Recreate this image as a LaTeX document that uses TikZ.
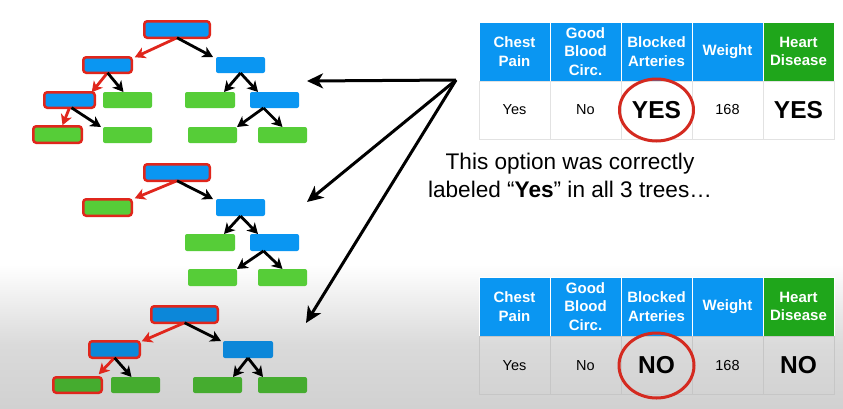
\documentclass[tikz,border=0pt]{standalone}
\usepackage{fontspec}
\setmainfont{Liberation Sans}
\usetikzlibrary{arrows.meta}

\definecolor{cblue}{HTML}{0A96F2}
\definecolor{cgreen}{HTML}{56CD38}
\definecolor{cblueD}{HTML}{0C87D9}
\definecolor{cgreenD}{HTML}{45AC2F}
\definecolor{cred}{HTML}{E0261C}
\definecolor{hgreen}{HTML}{1FA61B}
\definecolor{ringred}{HTML}{D42A20}
\definecolor{gridL}{HTML}{E2E2E2}
\definecolor{gridD}{HTML}{C6C6C6}
\definecolor{shadeA}{HTML}{DADADA}
\definecolor{shadeB}{HTML}{D1D1D1}

\tikzset{
  nd/.style={rectangle, rounded corners=2pt, inner sep=0pt, outer sep=0pt,
             minimum width=49pt, minimum height=16pt},
  bl/.style={nd, fill=cblue},
  gr/.style={nd, fill=cgreen},
  blD/.style={nd, fill=cblueD},
  grD/.style={nd, fill=cgreenD},
  hit/.style={draw=cred, line width=2.5pt, rounded corners=3pt},
  barr/.style={line width=2.8pt, draw=black,
               -{Stealth[length=10.5pt, width=11.5pt, inset=3pt]}},
  rarr/.style={barr, draw=cred},
  bigarr/.style={line width=3pt, draw=black,
                 -{Stealth[length=16pt, width=15pt, inset=4.5pt]}},
  hcell/.style={rectangle, fill=cblue, draw=white, line width=1pt,
                minimum width=71pt, minimum height=59pt, inner sep=0pt,
                text=white, align=center,
                font=\bfseries\fontsize{15}{18.5}\selectfont},
  hcellG/.style={hcell, fill=hgreen},
  dcell/.style={rectangle, draw=gridL, line width=1pt,
                minimum width=71pt, minimum height=58pt, inner sep=0pt,
                font=\fontsize{14.5}{16}\selectfont},
  dcellD/.style={dcell, draw=gridD},
  bigtxt/.style={font=\bfseries\fontsize{24.5}{28}\selectfont},
  ring/.style={draw=ringred, line width=3pt},
  captxt/.style={font=\fontsize{22.6}{28}\selectfont, anchor=base}
}

\begin{document}
\begin{tikzpicture}[x=1pt, y=-1pt]
  % page and the soft grey floor
  \useasboundingbox (0,0) rectangle (843,408);
  \fill[white] (0,0) rectangle (843,408);
  \shade[top color=white, bottom color=shadeA] (0,264) rectangle (843,345);
  \shade[top color=shadeA, bottom color=shadeB] (0,345) rectangle (843,408);

  % ---------- first tree ----------
  \node[bl,hit,minimum width=65.5pt,minimum height=16.5pt] (t1r) at (177,29.5) {};
  \node[bl,hit,minimum width=48.5pt,minimum height=15.5pt] (t1a) at (107.5,65) {};
  \node[bl] (t1b) at (240.5,65) {};
  \node[bl,hit,minimum width=50.5pt,minimum height=15.5pt] (t1c) at (69.5,100) {};
  \node[gr] (t1d) at (127.5,100) {};
  \node[gr,minimum width=50pt] (t1e) at (210,100) {};
  \node[bl] (t1f) at (274.5,100) {};
  \node[gr,hit,minimum width=48.5pt,minimum height=16.5pt] (t1g) at (57.5,134.5) {};
  \node[gr] (t1h) at (127.5,135) {};
  \node[gr] (t1i) at (212.5,135) {};
  \node[gr] (t1j) at (282.5,135) {};

  \draw[rarr] (t1r.south) -- ([xshift=3pt]t1a.north east);
  \draw[barr] (t1r.south) -- ([xshift=-3pt]t1b.north west);
  \draw[rarr] (t1a.south) -- ([xshift=-3pt]t1c.north east);
  \draw[barr] (t1a.south) -- ([xshift=-4pt]t1d.north);
  \draw[rarr] (t1c.south) -- ([xshift=5pt,yshift=1pt]t1g.north);
  \draw[barr] ([xshift=2pt]t1c.south) -- ([xshift=-2pt]t1h.north west);
  \draw[barr] (t1b.south) -- ([xshift=-11pt]t1e.north east);
  \draw[barr] (t1b.south) -- ([xshift=8pt]t1f.north west);
  \draw[barr] ([xshift=-11pt]t1f.south) -- (t1i.north east);
  \draw[barr] ([xshift=-11pt]t1f.south) -- (t1j.north);

  % ---------- second tree ----------
  \node[bl,hit,minimum width=65.5pt,minimum height=16.5pt] (t2r) at (177,172.5) {};
  \node[gr,hit,minimum width=48.5pt,minimum height=16.5pt] (t2a) at (107.5,207.5) {};
  \node[bl,minimum height=17pt] (t2b) at (240.5,207.5) {};
  \node[gr,minimum width=50pt,minimum height=17pt] (t2e) at (210,242.5) {};
  \node[bl,minimum height=17pt] (t2f) at (274.5,242.5) {};
  \node[gr,minimum height=17pt] (t2i) at (212.5,277.5) {};
  \node[gr,minimum height=17pt] (t2j) at (282.5,277.5) {};

  \draw[rarr] (t2r.south) -- ([xshift=3pt,yshift=1pt]t2a.north east);
  \draw[barr] (t2r.south) -- ([xshift=-3pt]t2b.north west);
  \draw[barr] (t2b.south) -- ([xshift=-11pt]t2e.north east);
  \draw[barr] (t2b.south) -- ([xshift=8pt]t2f.north west);
  \draw[barr] ([xshift=-11pt]t2f.south) -- (t2i.north east);
  \draw[barr] ([xshift=-11pt]t2f.south) -- (t2j.north);

  % ---------- third tree ----------
  \node[blD,hit,minimum width=66.5pt,minimum height=16.5pt] (t3r) at (184.5,314.5) {};
  \node[blD,hit,minimum width=50.5pt,minimum height=16.5pt] (t3a) at (114.5,349.5) {};
  \node[blD,minimum width=50pt,minimum height=17pt] (t3b) at (248,349.5) {};
  \node[grD,hit,minimum width=48.5pt,minimum height=15.5pt] (t3g) at (77.5,385) {};
  \node[grD] (t3h) at (135.5,385) {};
  \node[grD] (t3i) at (217.5,385) {};
  \node[grD] (t3j) at (282.5,385) {};

  \draw[rarr] (t3r.south) -- ([xshift=2pt]t3a.north east);
  \draw[barr] (t3r.south) -- ([xshift=-2pt]t3b.north west);
  \draw[rarr] (t3a.south) -- ([xshift=-3pt,yshift=3pt]t3g.north east);
  \draw[barr] (t3a.south) -- ([xshift=-4pt]t3h.north);
  \draw[barr] (t3b.south) -- ([xshift=-9pt]t3i.north east);
  \draw[barr] (t3b.south) -- ([xshift=5pt]t3j.north west);

  % ---------- upper table ----------
  \node[hcell]  (ha) at (514.5,51.5) {Chest\\Pain};
  \node[hcell]  (hb) at (585.5,51.5) {Good\\Blood\\Circ.};
  \node[hcell]  (hc) at (656.5,51.5) {Blocked\\Arteries};
  \node[hcell]  (hd) at (727.5,51.5) {Weight};
  \node[hcellG] (he) at (798.5,51.5) {Heart\\Disease};
  \node[dcell] (da) at (514.5,110) {Yes};
  \node[dcell] (db) at (585.5,110) {No};
  \node[dcell,bigtxt] (dc) at (656.5,110) {YES};
  \node[dcell] (dd) at (727.5,110) {168};
  \node[dcell,bigtxt] (de) at (798.5,110) {YES};
  \draw[ring] (dc.center) ellipse [x radius=37pt, y radius=31pt];

  % ---------- lower table ----------
  \node[hcell]  (ka) at (514.5,306.5) {Chest\\Pain};
  \node[hcell]  (kb) at (585.5,306.5) {Good\\Blood\\Circ.};
  \node[hcell]  (kc) at (656.5,306.5) {Blocked\\Arteries};
  \node[hcell]  (kd) at (727.5,306.5) {Weight};
  \node[hcellG] (ke) at (798.5,306.5) {Heart\\Disease};
  \node[dcellD] (ma) at (514.5,365.5) {Yes};
  \node[dcellD] (mb) at (585.5,365.5) {No};
  \node[dcellD,bigtxt] (mc) at (656.5,365.5) {NO};
  \node[dcellD] (md) at (727.5,365.5) {168};
  \node[dcellD,bigtxt] (me) at (798.5,365.5) {NO};
  \draw[ring] (mc.center) ellipse [x radius=37.5pt, y radius=32.5pt];

  % ---------- caption ----------
  \node[captxt] (cap1) at (570,169) {This option was correctly};
  \node[captxt] (cap2) at (570,197) {labeled “\textbf{Yes}” in all 3 trees…};

  % ---------- pointers from the upper table to the trees ----------
  \coordinate (hub) at (456,80);
  \coordinate (p1) at (307,81);
  \coordinate (p2) at (307,202);
  \coordinate (p3) at (306,323);
  \draw[bigarr] (hub) -- (p1);
  \draw[bigarr] (hub) -- (p2);
  \draw[bigarr] (hub) -- (p3);
\end{tikzpicture}
\end{document}
